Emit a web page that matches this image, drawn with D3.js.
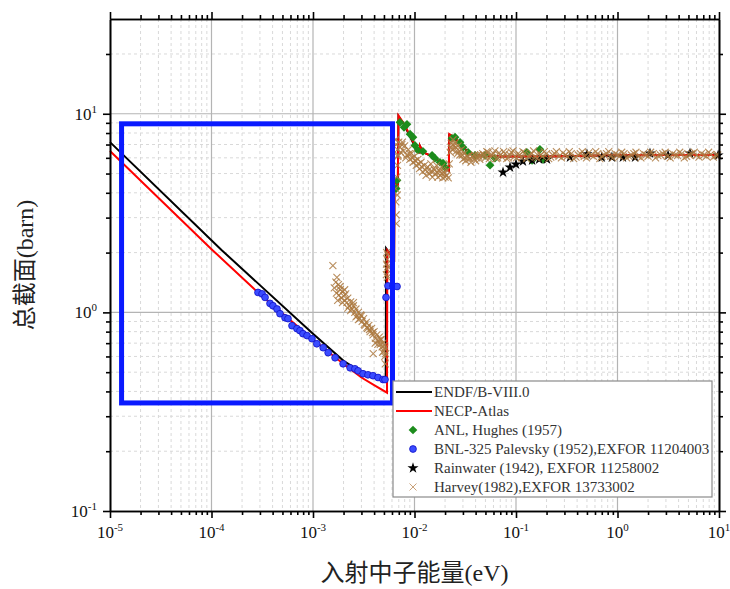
<!DOCTYPE html>
<html>
<head>
<meta charset="utf-8">
<script src="https://cdn.jsdelivr.net/npm/d3@7"></script>
<style>
  body { margin: 0; background: #fff; }
</style>
</head>
<body>
<div id="chart"></div>
<script>
/*    Data    */
/***********************************/
// ENDF/B-VIII.0 (black line)
const endfE = [1e-5, 1.27e-4, 1e-3, 2e-3, 3e-3, 4e-3, 5.2e-3, 5.25e-3, 6.3e-3, 6.35e-3, 6.85e-3, 6.95e-3, 8.0e-3, 9.0e-3, 1.0e-2, 1.08e-2, 1.12e-2, 1.13e-2, 1.18e-2, 1.3e-2, 1.5e-2, 1.8e-2, 2.0e-2, 2.18e-2, 2.2e-2, 2.5e-2, 2.8e-2, 3.0e-2, 3.4e-2, 4.0e-2, 5e-2, 7e-2, 0.1, 0.2, 0.5, 1, 3, 10];
const endfS = [7.2, 2.05, 0.78, 0.57, 0.50, 0.47, 0.45, 2.1, 1.85, 4.6, 4.4, 9.7, 8.7, 7.7, 6.9, 6.5, 6.4, 6.9, 6.6, 6.3, 6.1, 5.7, 5.35, 5.15, 7.8, 7.5, 7.1, 6.8, 6.4, 6.2, 6.15, 6.1, 6.1, 6.1, 6.15, 6.18, 6.2, 6.2];

// NECP-Atlas (red line)
const necpE = [1e-5, 1e-4, 2.87e-4, 1e-3, 2e-3, 3e-3, 4e-3, 5.36e-3, 5.40e-3, 6.3e-3, 6.35e-3, 6.85e-3, 6.95e-3, 8.0e-3, 9.0e-3, 1.0e-2, 1.08e-2, 1.12e-2, 1.13e-2, 1.18e-2, 1.3e-2, 1.5e-2, 1.8e-2, 2.0e-2, 2.18e-2, 2.2e-2, 2.5e-2, 2.8e-2, 3.0e-2, 3.4e-2, 4.0e-2, 5e-2, 7e-2, 0.1, 0.2, 0.5, 1, 3, 10];
const necpS = [6.5, 2.08, 1.26, 0.73, 0.55, 0.47, 0.43, 0.394, 2.05, 1.85, 4.6, 4.4, 9.8, 8.8, 7.8, 7.0, 6.5, 6.4, 6.9, 6.6, 6.3, 6.1, 5.7, 5.35, 5.15, 7.9, 7.6, 7.1, 6.8, 6.4, 6.2, 6.15, 6.1, 6.1, 6.1, 6.15, 6.18, 6.2, 6.2];

// ANL, Hughes (1957)
const anlE = [6.73e-3, 6.6e-3, 7.19e-3, 7.88e-3, 8.43e-3, 9.04e-3, 9.66e-3, 1.01e-2, 1.08e-2, 1.21e-2, 1.49e-2, 1.59e-2, 1.78e-2, 1.91e-2, 2.0e-2, 2.34e-2, 2.51e-2, 2.81e-2, 3.01e-2, 3.37e-2, 3.95e-2, 4.96e-2, 5.55e-2, 6.2e-2, 0.128, 0.144, 0.172, 0.185];
const anlS = [4.62, 4.2, 9.06, 8.55, 8.85, 7.89, 7.62, 6.93, 6.55, 6.47, 6.18, 5.97, 5.70, 5.64, 5.37, 7.53, 7.62, 7.18, 6.78, 6.40, 6.18, 6.18, 5.51, 5.97, 6.40, 5.83, 6.62, 5.90];

// BNL-325 Palevsky (1952)
const bnlE = [2.87e-4, 3.15e-4, 3.37e-4, 3.77e-4, 4.03e-4, 4.42e-4, 4.73e-4, 5.30e-4, 5.67e-4, 6.21e-4, 6.95e-4, 7.45e-4, 7.97e-4, 8.73e-4, 9.77e-4, 1.09e-3, 1.26e-3, 1.41e-3, 1.65e-3, 1.98e-3, 2.32e-3, 2.59e-3, 2.78e-3, 3.11e-3, 3.48e-3, 3.90e-3, 4.37e-3, 4.89e-3, 5.12e-3, 5.24e-3, 5.48e-3, 6.14e-3, 6.73e-3];
const bnlS = [1.26, 1.24, 1.19, 1.11, 1.08, 1.04, 0.985, 0.94, 0.93, 0.857, 0.828, 0.809, 0.781, 0.764, 0.737, 0.695, 0.664, 0.627, 0.591, 0.551, 0.526, 0.520, 0.508, 0.491, 0.485, 0.480, 0.470, 0.459, 0.459, 1.19, 1.36, 1.36, 1.35];

// Rainwater (1942)
const rainE = [0.0745, 0.0873, 0.100, 0.117, 0.144, 0.169, 0.202, 0.340, 0.50, 0.70, 0.88, 1.13, 1.49, 2.09, 3.15, 5.18, 9.8];
const rainS = [5.07, 5.37, 5.56, 5.76, 5.83, 5.90, 5.90, 6.04, 6.26, 6.04, 6.04, 6.04, 6.04, 6.32, 6.18, 6.32, 6.18];

// Harvey (1982)
const harveyE = [
  1.57e-3, 1.72e-3, 1.62e-3, 1.68e-3, 1.70e-3, 1.78e-3, 1.80e-3, 1.86e-3, 1.90e-3, 1.95e-3,
  2.00e-3, 2.05e-3, 2.10e-3, 2.15e-3, 2.20e-3, 2.28e-3, 2.35e-3, 2.42e-3, 2.50e-3, 2.58e-3,
  2.65e-3, 2.72e-3, 2.80e-3, 2.88e-3, 2.95e-3, 3.05e-3, 3.15e-3, 3.25e-3, 3.35e-3, 3.45e-3,
  3.55e-3, 3.65e-3, 3.78e-3, 3.90e-3, 3.92e-3, 4.00e-3, 4.12e-3, 4.25e-3, 4.38e-3, 4.50e-3,
  4.60e-3, 4.70e-3, 4.80e-3, 4.90e-3, 5.00e-3, 5.05e-3, 5.10e-3, 5.15e-3, 5.20e-3,
  1.75e-3, 1.85e-3, 1.95e-3, 2.05e-3, 2.2e-3, 2.35e-3, 2.5e-3, 2.65e-3, 2.8e-3, 3.0e-3,
  3.2e-3, 3.4e-3, 3.6e-3, 3.85e-3, 4.1e-3, 4.35e-3, 4.6e-3, 4.85e-3, 5.1e-3,
  5.28e-3, 5.30e-3, 5.32e-3, 5.35e-3, 5.38e-3, 5.40e-3, 5.42e-3, 5.45e-3,
  6.50e-3, 6.55e-3, 6.60e-3, 6.62e-3, 6.70e-3, 6.75e-3, 6.80e-3, 6.85e-3,
  6.5e-3, 6.6e-3, 6.8e-3, 7.0e-3, 7.2e-3, 6.9e-3,
  7.5e-3, 7.8e-3, 8.0e-3, 8.4e-3, 8.7e-3, 9.0e-3, 9.3e-3, 9.7e-3, 1.0e-2, 1.04e-2,
  1.08e-2, 1.12e-2, 1.16e-2, 1.2e-2, 1.25e-2, 1.3e-2, 1.35e-2, 1.4e-2, 1.45e-2, 1.5e-2,
  1.55e-2, 1.6e-2, 1.65e-2, 1.7e-2, 1.75e-2, 1.8e-2, 1.85e-2, 1.9e-2, 1.95e-2, 2.0e-2,
  2.1e-2, 2.15e-2, 2.2e-2, 2.25e-2, 2.3e-2, 2.35e-2, 2.4e-2, 2.45e-2,
  2.5e-2, 2.6e-2, 2.7e-2, 2.8e-2, 2.9e-2, 3.0e-2, 3.1e-2, 3.2e-2, 3.4e-2, 3.6e-2, 3.8e-2, 4.0e-2, 4.2e-2, 4.4e-2,
  7.3e-3, 7.6e-3, 8.2e-3, 8.9e-3, 9.5e-3, 1.02e-2, 1.1e-2, 1.18e-2, 1.28e-2, 1.38e-2,
  1.48e-2, 1.58e-2, 1.68e-2, 1.78e-2, 1.88e-2, 1.98e-2, 2.08e-2, 2.28e-2, 2.38e-2, 2.55e-2,
  2.65e-2, 2.75e-2, 2.95e-2, 3.15e-2, 3.3e-2, 3.5e-2, 3.7e-2, 3.9e-2, 4.1e-2, 4.3e-2, 4.5e-2,
  4.7e-2, 5.0e-2, 5.3e-2, 5.6e-2, 6.0e-2, 6.4e-2, 6.8e-2, 7.3e-2, 7.8e-2, 8.4e-2,
  9.0e-2, 9.7e-2, 0.105, 0.113, 0.122, 0.132, 0.143, 0.155, 0.168, 0.182,
  0.2, 0.22, 0.24, 0.265, 0.29, 0.32, 0.35, 0.39, 0.43, 0.47,
  0.52, 0.58, 0.64, 0.7, 0.78, 0.86, 0.95, 1.05, 1.16, 1.3,
  1.45, 1.6, 1.8, 2.0, 2.25, 2.5, 2.8, 3.1, 3.5, 3.9,
  4.3, 4.8, 5.4, 6.0, 6.7, 7.5, 8.3, 9.3,
  4.85e-2, 5.15e-2, 5.45e-2, 5.8e-2, 6.2e-2, 6.6e-2, 7.05e-2, 7.55e-2, 8.1e-2, 8.7e-2,
  9.35e-2, 0.101, 0.109, 0.117, 0.127, 0.137, 0.149, 0.161, 0.175, 0.19,
  0.21, 0.23, 0.25, 0.28, 0.305, 0.335, 0.37, 0.41, 0.45, 0.495,
  0.55, 0.61, 0.67, 0.74, 0.82, 0.9, 1.0, 1.1, 1.23, 1.37,
  1.52, 1.7, 1.9, 2.12, 2.37, 2.65, 2.95, 3.3, 3.7, 4.1,
  4.55, 5.1, 5.7, 6.35, 7.1, 7.9, 8.8, 9.7
];
const harveyS = [
  1.72, 1.50, 1.33, 1.42, 1.25, 1.38, 1.22, 1.30, 1.18, 1.27,
  1.21, 1.15, 1.24, 1.12, 1.18, 1.08, 1.13, 1.04, 1.08, 1.00,
  1.04, 0.96, 1.00, 0.93, 0.97, 0.90, 0.93, 0.86, 0.89, 0.83,
  0.86, 0.80, 0.83, 0.77, 0.62, 0.80, 0.74, 0.77, 0.72, 0.75,
  0.69, 0.73, 0.67, 0.70, 0.64, 0.68, 0.60, 0.55, 0.62,
  1.15, 1.35, 1.12, 1.30, 1.05, 1.02, 1.12, 0.95, 0.92, 0.96,
  0.87, 0.84, 0.82, 0.79, 0.70, 0.69, 0.73, 0.63, 0.66,
  1.55, 1.75, 2.0, 1.65, 1.85, 1.50, 1.95, 1.70,
  4.2, 3.6, 3.1, 2.8, 4.8, 3.9, 5.5, 6.1,
  7.4, 7.0, 6.6, 7.2, 6.8, 6.2,
  7.0, 6.5, 6.9, 6.2, 6.6, 5.9, 6.3, 5.7, 6.1, 5.5,
  5.9, 5.3, 5.7, 5.1, 5.5, 4.9, 5.4, 5.0, 5.6, 4.8,
  5.3, 5.0, 5.5, 4.8, 5.2, 4.9, 5.4, 4.75, 5.1, 4.8,
  5.2, 4.75, 5.6, 6.4, 7.1, 6.6, 7.4, 6.9,
  7.1, 6.5, 6.9, 6.2, 6.6, 5.9, 6.3, 5.8, 6.1, 5.7, 6.0, 5.8, 6.2, 5.9,
  6.4, 7.2, 6.0, 6.3, 6.0, 5.8, 5.6, 5.4, 5.2, 5.2,
  5.1, 5.2, 5.05, 5.1, 5.0, 5.0, 4.9, 6.8, 7.0, 6.8,
  6.3, 6.5, 6.2, 6.0, 6.1, 5.95, 6.1, 6.2, 6.0, 6.1, 6.2,
  6.3, 6.0, 6.4, 6.1, 6.3, 5.95, 6.35, 6.05, 6.3, 6.0,
  6.4, 6.1, 6.3, 6.0, 6.35, 6.1, 6.3, 6.05, 6.35, 6.1,
  6.3, 6.05, 6.3, 6.1, 6.35, 6.1, 6.3, 6.05, 6.3, 6.1,
  6.35, 6.1, 6.3, 6.1, 6.3, 6.1, 6.3, 6.1, 6.3, 6.1,
  6.3, 6.1, 6.3, 6.1, 6.3, 6.15, 6.3, 6.1, 6.3, 6.15,
  6.3, 6.1, 6.3, 6.15, 6.3, 6.1, 6.25, 6.15,
  6.2, 6.45, 5.95, 6.2, 6.5, 6.0, 6.2, 6.45, 5.95, 6.2,
  6.5, 6.0, 6.2, 6.45, 5.95, 6.2, 6.5, 6.0, 6.2, 6.45,
  5.95, 6.2, 6.45, 6.0, 6.2, 6.45, 5.95, 6.2, 6.45, 6.0,
  6.2, 6.45, 5.95, 6.2, 6.45, 6.0, 6.2, 6.4, 6.0, 6.2,
  6.4, 6.0, 6.2, 6.4, 6.0, 6.2, 6.4, 6.0, 6.2, 6.4,
  6.0, 6.2, 6.4, 6.05, 6.2, 6.4, 6.05, 6.2
];

// highlight box (blue frame), in data units
const boxE = [1.30e-5, 6.07e-3];
const boxS = [0.35, 8.9];

// tick labels
const xExponents = ["-5", "-4", "-3", "-2", "-1", "0", "1"];
const yExponents = ["-1", "0", "1"];

const legendNames = [
  "ENDF/B-VIII.0",
  "NECP-Atlas",
  "ANL, Hughes (1957)",
  "BNL-325 Palevsky (1952),EXFOR 11204003",
  "Rainwater (1942), EXFOR 11258002",
  "Harvey(1982),EXFOR 13733002"
];

/*    Declare the constants    */
/*******************************/
const width = 730;
const height = 589;
const margin = {top: 19, right: 11, bottom: 78, left: 110};
const innerWidth = width - margin.left - margin.right;
const innerHeight = height - margin.top - margin.bottom;

const tan = "#ad7a42";
const green = "#1c8c1c";
const serif = "'Liberation Serif', 'Times New Roman', 'Noto Sans CJK SC', serif";

const svg = d3.select("#chart")
  .append("svg")
    .attr("width", width)
    .attr("height", height);

const innerChart = svg.append("g")
  .attr("transform", `translate(${margin.left}, ${margin.top})`);

const xScale = d3.scaleLog().domain([1e-5, 10]).range([0, innerWidth]);
const yScale = d3.scaleLog().domain([0.1, 30]).range([innerHeight, 0]);

const xMajor = xExponents.map(e => Math.pow(10, +e));
const yMajor = yExponents.map(e => Math.pow(10, +e));
const xMinor = xScale.ticks().filter(t => !xMajor.some(m => Math.abs(m - t) / m < 1e-6));
const yMinor = yScale.ticks().filter(t => !yMajor.some(m => Math.abs(m - t) / m < 1e-6) && t < 30);

/*    Grid    */
const grid = innerChart.append("g");
grid.selectAll(".gx-minor").data(xMinor).join("line")
  .attr("x1", d => xScale(d)).attr("x2", d => xScale(d))
  .attr("y1", 0).attr("y2", innerHeight)
  .attr("stroke", "#d9d9d9").attr("stroke-dasharray", "3,3");
grid.selectAll(".gy-minor").data(yMinor).join("line")
  .attr("y1", d => yScale(d)).attr("y2", d => yScale(d))
  .attr("x1", 0).attr("x2", innerWidth)
  .attr("stroke", "#d9d9d9").attr("stroke-dasharray", "3,3");
grid.selectAll(".gx-major").data(xMajor.slice(1, -1)).join("line")
  .attr("x1", d => xScale(d)).attr("x2", d => xScale(d))
  .attr("y1", 0).attr("y2", innerHeight)
  .attr("stroke", "#b4b4b4").attr("stroke-width", 1.2);
grid.selectAll(".gy-major").data(yMajor.slice(1)).join("line")
  .attr("y1", d => yScale(d)).attr("y2", d => yScale(d))
  .attr("x1", 0).attr("x2", innerWidth)
  .attr("stroke", "#b4b4b4").attr("stroke-width", 1.2);

/*    Lines    */
const line = d3.line()
  .x(d => xScale(d[0]))
  .y(d => yScale(d[1]));

innerChart.append("path")
  .datum(d3.zip(endfE, endfS))
  .attr("d", line)
  .attr("fill", "none").attr("stroke", "#000").attr("stroke-width", 2);

innerChart.append("path")
  .datum(d3.zip(necpE, necpS))
  .attr("d", line)
  .attr("fill", "none").attr("stroke", "#ff0000").attr("stroke-width", 2);

/*    Markers    */
const diamond = d3.symbol().type(d3.symbolSquare).size(38);
const star = d3.symbol().type(d3.symbolStar).size(38);
const cross = "M-3.5,-3.5L3.5,3.5M-3.5,3.5L3.5,-3.5";

innerChart.selectAll(".anl").data(d3.zip(anlE, anlS)).join("path")
  .attr("d", diamond)
  .attr("transform", d => `translate(${xScale(d[0])},${yScale(d[1])}) rotate(45)`)
  .attr("fill", green);

innerChart.selectAll(".bnl").data(d3.zip(bnlE, bnlS)).join("circle")
  .attr("cx", d => xScale(d[0]))
  .attr("cy", d => yScale(d[1]))
  .attr("r", 3.4)
  .attr("fill", "#3a4cff").attr("stroke", "#1010c8").attr("stroke-width", 0.8);

innerChart.selectAll(".rain").data(d3.zip(rainE, rainS)).join("path")
  .attr("d", star)
  .attr("transform", d => `translate(${xScale(d[0])},${yScale(d[1])})`)
  .attr("fill", "#000");

innerChart.selectAll(".harvey").data(d3.zip(harveyE, harveyS)).join("path")
  .attr("d", cross)
  .attr("transform", d => `translate(${xScale(d[0])},${yScale(d[1])})`)
  .attr("fill", "none").attr("stroke", tan).attr("stroke-width", 1.1).attr("opacity", 0.85);

/*    Highlight box    */
innerChart.append("rect")
  .attr("x", xScale(boxE[0]))
  .attr("y", yScale(boxS[1]))
  .attr("width", xScale(boxE[1]) - xScale(boxE[0]))
  .attr("height", yScale(boxS[0]) - yScale(boxS[1]))
  .attr("fill", "none").attr("stroke", "#0a1aff").attr("stroke-width", 5);

/*    Axes    */
const styleAxis = g => {
  g.select(".domain").attr("stroke-width", 1.6);
  g.selectAll(".tick line").attr("stroke-width", 1.6);
  g.selectAll("text").remove();
};

innerChart.append("g").attr("transform", `translate(0,${innerHeight})`)
  .call(d3.axisBottom(xScale).tickValues(xMinor).tickSize(4).tickSizeOuter(0)).call(styleAxis);
innerChart.append("g").attr("transform", `translate(0,${innerHeight})`)
  .call(d3.axisBottom(xScale).tickValues(xMajor).tickSize(7).tickSizeOuter(0)).call(styleAxis);
innerChart.append("g")
  .call(d3.axisTop(xScale).tickValues(xMinor).tickSize(4).tickSizeOuter(0)).call(styleAxis);
innerChart.append("g")
  .call(d3.axisTop(xScale).tickValues(xMajor).tickSize(7).tickSizeOuter(0)).call(styleAxis);
innerChart.append("g")
  .call(d3.axisLeft(yScale).tickValues(yMinor).tickSize(4).tickSizeOuter(0)).call(styleAxis);
innerChart.append("g")
  .call(d3.axisLeft(yScale).tickValues(yMajor).tickSize(7).tickSizeOuter(0)).call(styleAxis);
innerChart.append("g").attr("transform", `translate(${innerWidth},0)`)
  .call(d3.axisRight(yScale).tickValues(yMinor).tickSize(4).tickSizeOuter(0)).call(styleAxis);
innerChart.append("g").attr("transform", `translate(${innerWidth},0)`)
  .call(d3.axisRight(yScale).tickValues(yMajor).tickSize(7).tickSizeOuter(0)).call(styleAxis);

// tick labels 10^n
const xLabels = innerChart.selectAll(".xlab").data(xExponents).join("text")
  .attr("x", d => xScale(Math.pow(10, +d)))
  .attr("y", innerHeight + 27)
  .attr("text-anchor", "middle")
  .attr("font-family", serif).attr("font-size", 17).attr("fill", "#111");
xLabels.append("tspan").text("10");
xLabels.append("tspan").attr("dy", -7).attr("font-size", 11).text(d => d);

const yLabels = innerChart.selectAll(".ylab").data(yExponents).join("text")
  .attr("x", -13)
  .attr("y", d => yScale(Math.pow(10, +d)) + 6)
  .attr("text-anchor", "end")
  .attr("font-family", serif).attr("font-size", 17).attr("fill", "#111");
yLabels.append("tspan").text("10");
yLabels.append("tspan").attr("dy", -7).attr("font-size", 11).text(d => d);

// axis titles
svg.append("text")
  .attr("x", margin.left + innerWidth / 2)
  .attr("y", 581)
  .attr("text-anchor", "middle")
  .attr("font-family", serif).attr("font-size", 24).attr("fill", "#222")
  .text("入射中子能量(eV)");

svg.append("text")
  .attr("transform", `translate(33, ${margin.top + innerHeight / 2}) rotate(-90)`)
  .attr("text-anchor", "middle")
  .attr("font-family", serif).attr("font-size", 24).attr("fill", "#222")
  .text("总截面(barn)");

/*    Legend    */
const legend = svg.append("g").attr("transform", "translate(393, 381)");
legend.append("rect")
  .attr("width", 319).attr("height", 116)
  .attr("fill", "#fff").attr("stroke", "#8a8a8a").attr("stroke-width", 1.2);

const rowY = i => 11 + i * 19;
const items = legend.selectAll(".item").data(legendNames).join("g")
  .attr("transform", (d, i) => `translate(0, ${rowY(i)})`);

items.append("text")
  .attr("x", 41).attr("y", 5)
  .attr("font-family", serif).attr("font-size", 15).attr("fill", "#333")
  .text(d => d);

items.filter((d, i) => i === 0).append("line")
  .attr("x1", 3).attr("x2", 39).attr("stroke", "#000").attr("stroke-width", 2.2);
items.filter((d, i) => i === 1).append("line")
  .attr("x1", 3).attr("x2", 39).attr("stroke", "#ff0000").attr("stroke-width", 2.2);
items.filter((d, i) => i === 2).append("path")
  .attr("d", diamond).attr("transform", "translate(20,0) rotate(45)").attr("fill", green);
items.filter((d, i) => i === 3).append("circle")
  .attr("cx", 20).attr("r", 3.4).attr("fill", "#3a4cff").attr("stroke", "#1010c8").attr("stroke-width", 0.8);
items.filter((d, i) => i === 4).append("path")
  .attr("d", star).attr("transform", "translate(20,0)").attr("fill", "#000");
items.filter((d, i) => i === 5).append("path")
  .attr("d", cross).attr("transform", "translate(20,0)")
  .attr("fill", "none").attr("stroke", "#c9a27a").attr("stroke-width", 1);
</script>
</body>
</html>
